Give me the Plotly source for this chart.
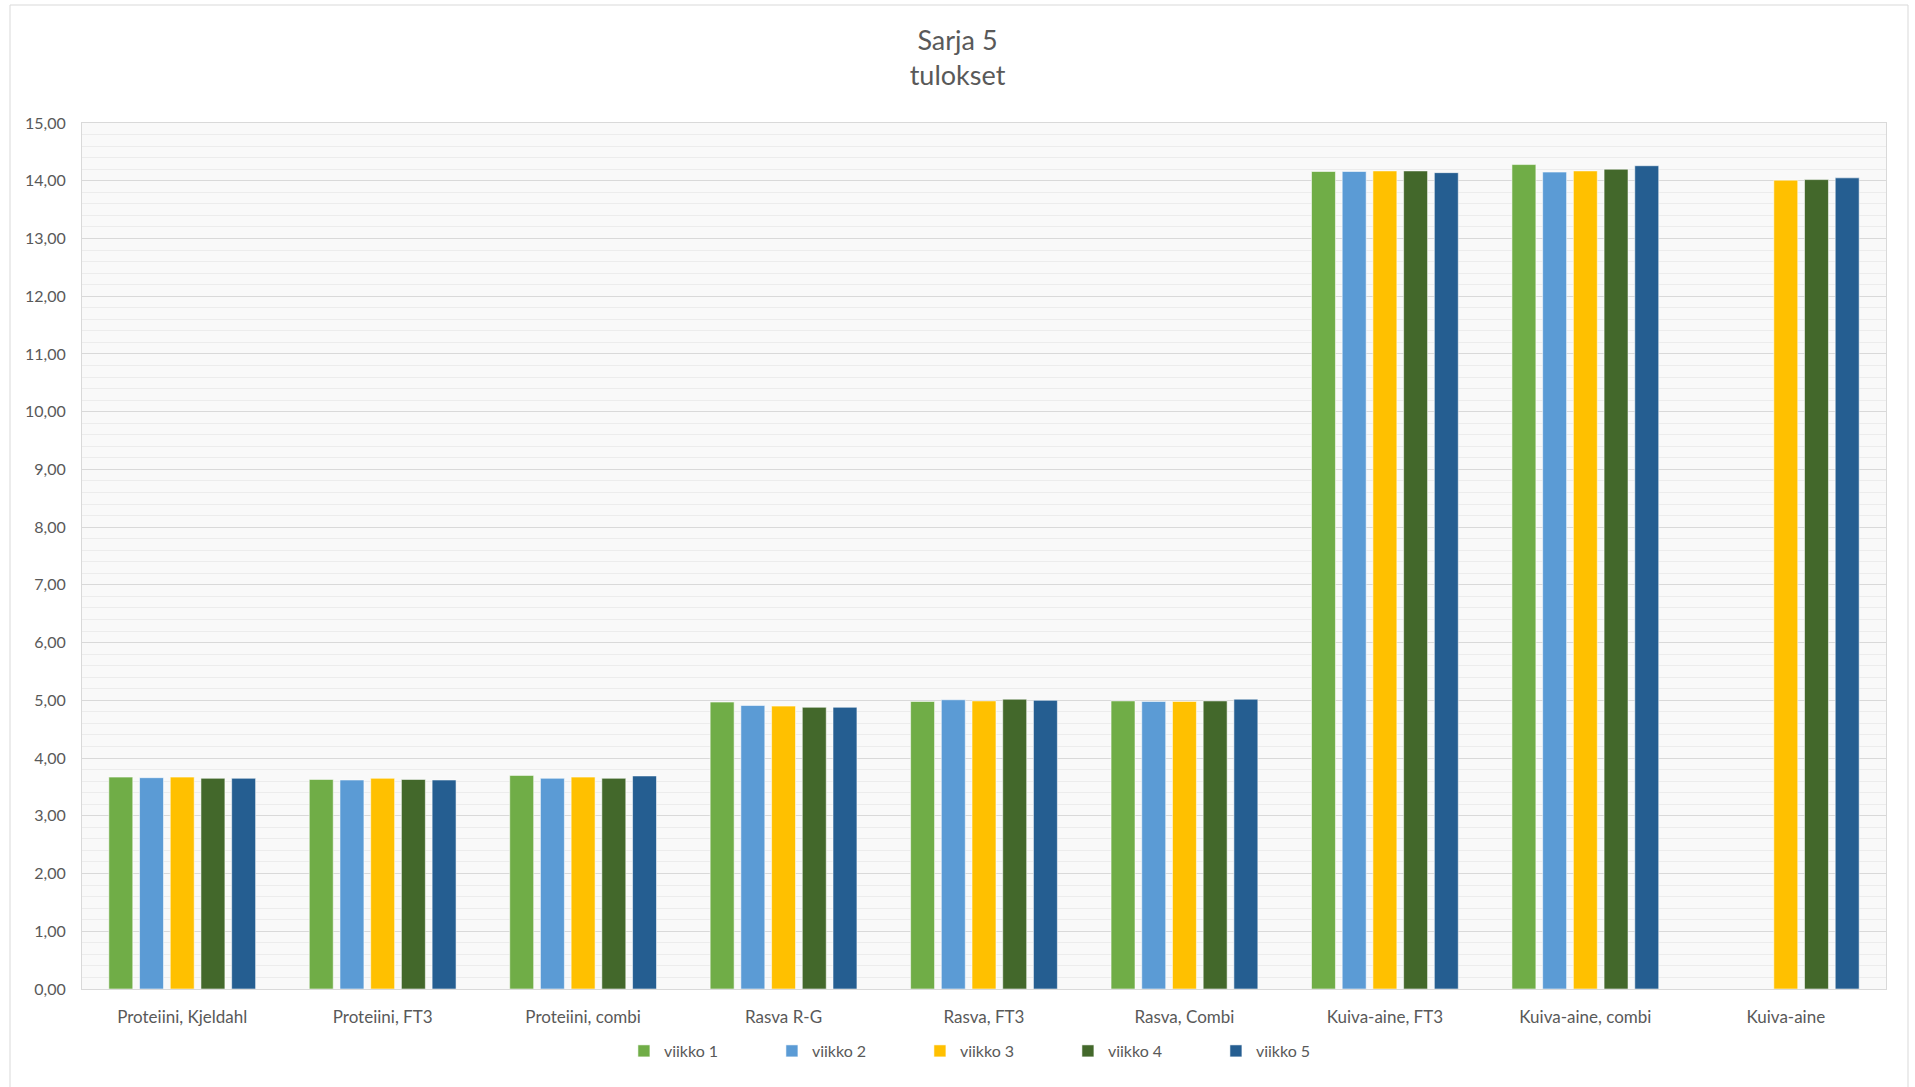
import plotly.graph_objects as go

categories = ["Proteiini, Kjeldahl", "Proteiini, FT3", "Proteiini, combi", "Rasva R-G",
              "Rasva, FT3", "Rasva, Combi", "Kuiva-aine, FT3", "Kuiva-aine, combi", "Kuiva-aine"]
series_names = ["viikko 1", "viikko 2", "viikko 3", "viikko 4", "viikko 5"]
viikko_1 = [3.67, 3.63, 3.70, 4.97, 4.98, 4.99, 14.16, 14.28, None]
viikko_2 = [3.66, 3.62, 3.65, 4.91, 5.01, 4.98, 14.16, 14.15, None]
viikko_3 = [3.67, 3.65, 3.67, 4.90, 4.99, 4.98, 14.17, 14.17, 14.01]
viikko_4 = [3.65, 3.63, 3.65, 4.88, 5.02, 4.99, 14.17, 14.20, 14.02]
viikko_5 = [3.65, 3.62, 3.69, 4.88, 5.00, 5.02, 14.14, 14.26, 14.05]
values = [viikko_1, viikko_2, viikko_3, viikko_4, viikko_5]
colors = ["#70AD47", "#5B9BD5", "#FFC000", "#43682B", "#255E91"]
y_ticks = [0, 1, 2, 3, 4, 5, 6, 7, 8, 9, 10, 11, 12, 13, 14, 15]

FONT = "Lato, Calibri, Carlito, 'Open Sans', sans-serif"
TXT = "#595959"

fig = go.Figure()
for name, vals, col in zip(series_names, values, colors):
    fig.add_trace(go.Bar(
        x=categories, y=vals, name=name,
        marker=dict(color=col, line=dict(color="rgba(255,255,255,0.55)", width=1)),
    ))

fig.update_layout(
    width=1915, height=1087,
    margin=dict(l=82, r=29, t=123, b=98),
    paper_bgcolor="white",
    plot_bgcolor="#f9f9f9",
    separators=", ",
    barmode="group",
    bargap=0.234,
    bargroupgap=0.22,
    font=dict(family=FONT, color=TXT, size=16),
    title=dict(
        text="Sarja 5<br>tulokset",
        x=0.5, xref="container", xanchor="center",
        y=1 - 50 / 1087, yanchor="middle",
        font=dict(family=FONT, size=27, color=TXT),
    ),
    showlegend=True,
    legend=dict(
        orientation="h",
        x=0.5055, xanchor="center",
        y=-0.0716, yanchor="middle",
        entrywidth=103,
        font=dict(size=16, color=TXT),
        bgcolor="rgba(0,0,0,0)",
    ),
    xaxis=dict(
        showgrid=False,
        showline=True, linecolor="#d9d9d9", linewidth=1, mirror=True,
        ticks="",
        ticklabelstandoff=13,
        tickfont=dict(size=17, color=TXT),
        fixedrange=True,
    ),
    yaxis=dict(
        range=[0, 15],
        tickvals=y_ticks,
        tickformat=".2f",
        showgrid=True, gridcolor="#d9d9d9", gridwidth=1,
        minor=dict(dtick=0.2, showgrid=True, gridcolor="#ececec", gridwidth=1),
        showline=True, linecolor="#d9d9d9", linewidth=1, mirror=True,
        zeroline=False,
        ticks="",
        ticklabelstandoff=12,
        tickfont=dict(size=16, color=TXT),
        fixedrange=True,
    ),
    shapes=[dict(
        type="rect", xref="paper", yref="paper",
        x0=(10 - 82) / 1804, x1=(1908 - 82) / 1804,
        y0=(989 - 1100) / 866, y1=(989 - 5) / 866,
        line=dict(color="#d9d9d9", width=1),
        fillcolor="rgba(0,0,0,0)", layer="below",
    )],
)

fig.write_html("out.html")
